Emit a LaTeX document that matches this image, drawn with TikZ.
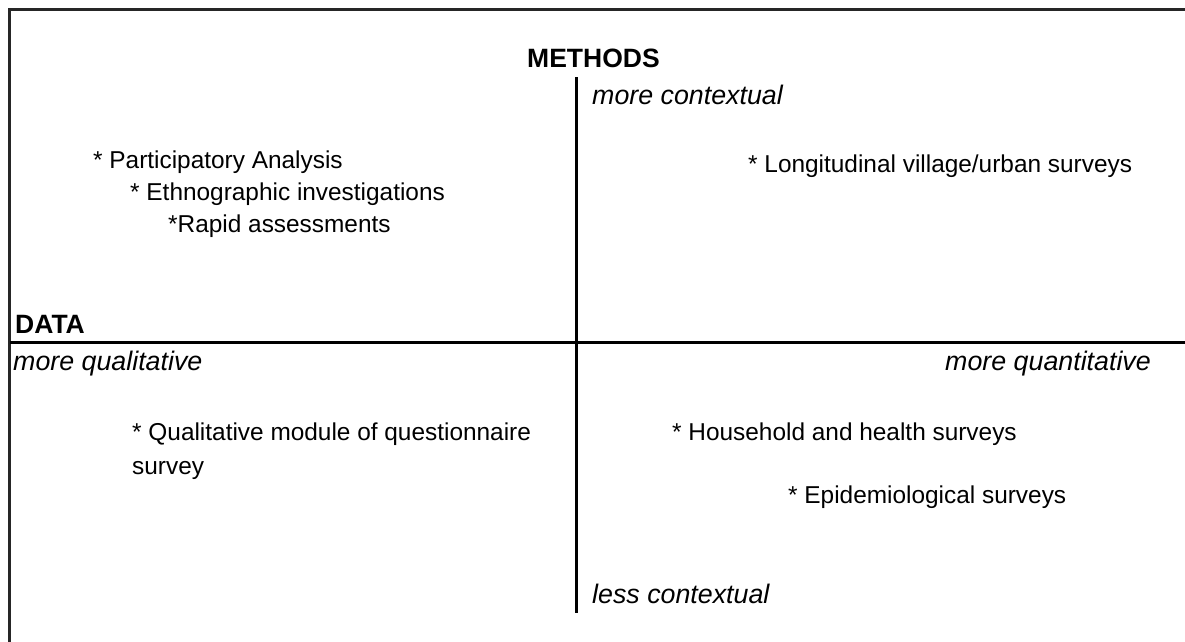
\documentclass[tikz,border=0pt]{standalone}
\usepackage{fontspec}
\setmainfont{Liberation Sans}
\begin{document}
\begin{tikzpicture}[x=1pt,y=-1pt,
  item/.style={anchor=base west,inner sep=0pt,font=\fontsize{24.4}{28}\selectfont},
  head/.style={anchor=base west,inner sep=0pt,font=\fontsize{26.5}{30}\selectfont\bfseries},
  axislabel/.style={anchor=base west,inner sep=0pt,font=\fontsize{26.8}{30}\selectfont\itshape},
  frameline/.style={line width=2.2pt,draw=black!85},
  rule/.style={line width=3pt,draw=black}]
\useasboundingbox (0,0) rectangle (1185,641);
% frame (top and left edges)
\coordinate (ftl) at (9.5,9.5);
\coordinate (ftr) at (1190,9.5);
\coordinate (fbl) at (9.5,650);
\draw[frameline] (fbl) -- (ftl) -- (ftr);
% axes
\coordinate (vtop) at (576,77);
\coordinate (vbot) at (576,613);
\coordinate (hl) at (10,342);
\coordinate (hr) at (1190,342);
\draw[rule] (vtop) -- (vbot);
\draw[rule] (hl) -- (hr);
% headings
\node[head] (methods) at (527,67) {METHODS};
\node[head] (data) at (15,333) {DATA};
% axis labels
\node[axislabel] (mc) at (592,104) {more contextual};
\node[axislabel] (lc) at (592,603) {less contextual};
\node[axislabel] (mql) at (13,370) {more qualitative};
\node[axislabel,anchor=base east] (mqn) at (1151,370) {more quantitative};
% items
\node[item] (pa) at (93,168) {* Participatory Analysis};
\node[item] (ei) at (130,200) {* Ethnographic investigations};
\node[item] (ra) at (168,232) {*Rapid assessments};
\node[item] (lv) at (748,172) {* Longitudinal village/urban surveys};
\node[item] (qm) at (132,440) {* Qualitative module of questionnaire};
\node[item] (qs) at (132,474) {survey};
\node[item] (hh) at (672,440) {* Household and health surveys};
\node[item] (ep) at (788,503) {* Epidemiological surveys};
\end{tikzpicture}
\end{document}
